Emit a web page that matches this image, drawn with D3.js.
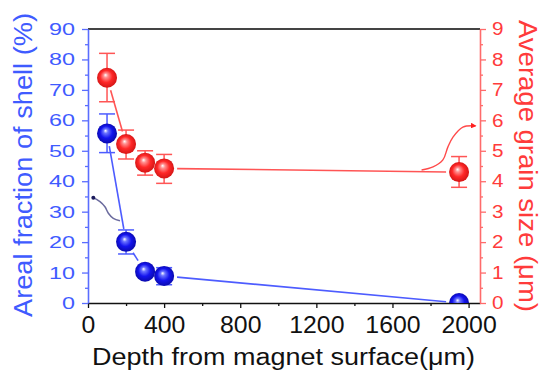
<!DOCTYPE html>
<html>
<head>
<meta charset="utf-8">
<script src="https://cdn.jsdelivr.net/npm/d3@7"></script>
<style>
  html, body { margin: 0; padding: 0; background: #fff; }
  svg { display: block; font-family: "Liberation Sans", Arial, sans-serif; }
</style>
</head>
<body>
<svg id="chart" width="540" height="371"></svg>
<script>
// Depth below the magnet surface (µm)
const depth = [100, 200, 300, 400, 1950];

// Areal fraction of the shell phase (%) with error range
const shellFraction = [55.7, 20.1, 10.3, 8.9, 0];
const shellLow      = [49.4, 16.1, 9.3, 6.0, 0];
const shellHigh     = [62.1, 24.0, 11.3, 11.6, 0];

// Average grain size (µm) with error range
const grainSize = [7.4, 5.22, 4.61, 4.42, 4.3];
const grainLow  = [6.61, 4.73, 4.2, 3.93, 3.8];
const grainHigh = [8.2, 5.68, 5.0, 4.88, 4.81];

// Axis ticks
const xTicks = [0, 400, 800, 1200, 1600, 2000];
const xMinor = [200, 600, 1000, 1400, 1800];
const leftTicks = [0, 10, 20, 30, 40, 50, 60, 70, 80, 90];
const leftMinor = [5, 15, 25, 35, 45, 55, 65, 75, 85];
const rightTicks = [0, 1, 2, 3, 4, 5, 6, 7, 8, 9];
const rightMinor = [0.5, 1.5, 2.5, 3.5, 4.5, 5.5, 6.5, 7.5, 8.5];

// Curved arrows pointing each series to its own axis (depth, axis value)
const shellArrow = [[28, 34.6], [63, 33.3], [89, 31.6], [107, 29.5], [133, 27.8], [168, 27.0]];
const grainArrow = [[1753, 4.37], [1813, 4.47], [1865, 4.7], [1891, 5.12], [1918, 5.45], [1970, 5.78], [2036, 5.82]];

const BLUE_TEXT = "#3f5bff", BLUE_AXIS = "#5a6dff", BLUE_LINE = "#4d5cff";
const RED_TEXT = "#ff3b3b", RED_AXIS = "#ff6b6b", RED_LINE = "#ff5555";

const svg = d3.select("#chart");
const plot = { left: 88, right: 480, top: 29, bottom: 303 };

const x = d3.scaleLinear().domain([0, 2060]).range([plot.left, plot.right]);
const yL = d3.scaleLinear().domain([0, 90]).range([plot.bottom, plot.top]);
const yR = d3.scaleLinear().domain([0, 9]).range([plot.bottom, plot.top]);
const plain = d3.format("d");

// Sphere-like marker shading
const defs = svg.append("defs");
function sphere(id, light, mid, dark) {
  const g = defs.append("radialGradient").attr("id", id)
    .attr("cx", "50%").attr("cy", "50%").attr("r", "55%")
    .attr("fx", "42%").attr("fy", "36%");
  g.append("stop").attr("offset", "0%").attr("stop-color", "#ffffff");
  g.append("stop").attr("offset", "20%").attr("stop-color", light);
  g.append("stop").attr("offset", "55%").attr("stop-color", mid);
  g.append("stop").attr("offset", "100%").attr("stop-color", dark);
}
sphere("blueBall", "#6b74ff", "#1414ee", "#0808a0");
sphere("redBall", "#ff9090", "#ff2828", "#cc1212");

defs.append("clipPath").attr("id", "plotClip").append("rect")
  .attr("x", plot.left).attr("y", plot.top)
  .attr("width", plot.right - plot.left).attr("height", plot.bottom - plot.top);

defs.append("marker").attr("id", "redHead")
  .attr("viewBox", "0 0 10 10").attr("refX", 8).attr("refY", 5)
  .attr("markerWidth", 4).attr("markerHeight", 4).attr("orient", "auto")
  .append("path").attr("d", "M0,0 L10,5 L0,10 Z").attr("fill", "#ff2020");

// Top frame line
svg.append("line")
  .attr("x1", plot.left).attr("x2", plot.right)
  .attr("y1", plot.top).attr("y2", plot.top)
  .attr("stroke", "#444").attr("stroke-width", 2);

function styleAxis(g, color, width) {
  g.select(".domain").attr("stroke", color).attr("stroke-width", width);
  g.selectAll(".tick line").attr("stroke", color).attr("stroke-width", 1.3);
}

// Bottom axis
const gx = svg.append("g").attr("transform", `translate(0,${plot.bottom})`)
  .call(d3.axisBottom(x).tickValues(xTicks).tickFormat(plain).tickSize(5).tickPadding(9).tickSizeOuter(0));
styleAxis(gx, "#111", 1.6);
gx.selectAll("text").attr("fill", "#111").attr("font-size", 23)
  .attr("textLength", d => plain(d).length * 13.8).attr("lengthAdjust", "spacingAndGlyphs");
const gxm = svg.append("g").attr("transform", `translate(0,${plot.bottom})`)
  .call(d3.axisBottom(x).tickValues(xMinor).tickSize(3).tickFormat(""));
gxm.select(".domain").remove();
gxm.selectAll(".tick line").attr("stroke", "#111").attr("stroke-width", 1.3);

// Left axis (shell fraction)
const gl = svg.append("g").attr("transform", `translate(${plot.left},0)`)
  .call(d3.axisLeft(yL).tickValues(leftTicks).tickFormat(plain).tickSize(6).tickPadding(7).tickSizeOuter(0));
styleAxis(gl, BLUE_AXIS, 1.6);
gl.selectAll("text").attr("fill", BLUE_TEXT).attr("font-size", 17)
  .attr("textLength", d => plain(d).length * 13).attr("lengthAdjust", "spacingAndGlyphs");
const glm = svg.append("g").attr("transform", `translate(${plot.left},0)`)
  .call(d3.axisLeft(yL).tickValues(leftMinor).tickSize(3).tickFormat(""));
glm.select(".domain").remove();
glm.selectAll(".tick line").attr("stroke", BLUE_AXIS).attr("stroke-width", 1.3);

// Right axis (grain size)
const gr = svg.append("g").attr("transform", `translate(${plot.right},0)`)
  .call(d3.axisRight(yR).tickValues(rightTicks).tickFormat(plain).tickSize(6).tickPadding(6).tickSizeOuter(0));
styleAxis(gr, RED_AXIS, 1.6);
gr.selectAll("text").attr("fill", RED_TEXT).attr("font-size", 18)
  .attr("textLength", 11.5).attr("lengthAdjust", "spacingAndGlyphs");
const grm = svg.append("g").attr("transform", `translate(${plot.right},0)`)
  .call(d3.axisRight(yR).tickValues(rightMinor).tickSize(3).tickFormat(""));
grm.select(".domain").remove();
grm.selectAll(".tick line").attr("stroke", RED_AXIS).attr("stroke-width", 1.3);

// Axis titles
svg.append("text")
  .attr("x", (plot.left + plot.right) / 2 - 0.5).attr("y", 365)
  .attr("text-anchor", "middle").attr("font-size", 23).attr("fill", "#111")
  .attr("textLength", 383).attr("lengthAdjust", "spacingAndGlyphs")
  .text("Depth from magnet surface(μm)");

svg.append("text")
  .attr("transform", "translate(31.5,165) rotate(-90)")
  .attr("text-anchor", "middle").attr("font-size", 25).attr("fill", BLUE_TEXT)
  .attr("textLength", 304).attr("lengthAdjust", "spacingAndGlyphs")
  .text("Areal fraction of shell (%)");

svg.append("text")
  .attr("transform", "translate(518.5,166) rotate(90)")
  .attr("text-anchor", "middle").attr("font-size", 25).attr("fill", RED_TEXT)
  .attr("textLength", 292).attr("lengthAdjust", "spacingAndGlyphs")
  .text("Average grain size (μm)");

// Connecting lines, broken around each marker
function gappedSegments(xs, ys, yScale, gap) {
  const pts = xs.map((d, i) => [x(d), yScale(ys[i])]);
  const segs = [];
  for (let i = 0; i < pts.length - 1; i++) {
    const [x1, y1] = pts[i], [x2, y2] = pts[i + 1];
    const len = Math.hypot(x2 - x1, y2 - y1);
    if (len <= 2 * gap + 2) continue;
    const ux = (x2 - x1) / len, uy = (y2 - y1) / len;
    segs.push([x1 + ux * gap, y1 + uy * gap, x2 - ux * gap, y2 - uy * gap]);
  }
  return segs;
}

const dataLayer = svg.append("g").attr("clip-path", "url(#plotClip)");

function drawSeries(values, low, high, yScale, lineColor, fill) {
  const g = dataLayer.append("g");
  g.selectAll("line.seg").data(gappedSegments(depth, values, yScale, 13)).join("line")
    .attr("class", "seg")
    .attr("x1", d => d[0]).attr("y1", d => d[1]).attr("x2", d => d[2]).attr("y2", d => d[3])
    .attr("stroke", lineColor).attr("stroke-width", 1.6);
  const idx = d3.range(depth.length).filter(i => high[i] > low[i]);
  g.selectAll("line.err").data(idx).join("line").attr("class", "err")
    .attr("x1", i => x(depth[i])).attr("x2", i => x(depth[i]))
    .attr("y1", i => yScale(low[i])).attr("y2", i => yScale(high[i]))
    .attr("stroke", lineColor).attr("stroke-width", 1.5);
  [low, high].forEach(arr => {
    g.selectAll(null).data(idx).join("line")
      .attr("x1", i => x(depth[i]) - 8).attr("x2", i => x(depth[i]) + 8)
      .attr("y1", i => yScale(arr[i])).attr("y2", i => yScale(arr[i]))
      .attr("stroke", lineColor).attr("stroke-width", 1.5);
  });
  g.selectAll("circle").data(values).join("circle")
    .attr("cx", (d, i) => x(depth[i])).attr("cy", d => yScale(d))
    .attr("r", 10).attr("fill", fill);
}

drawSeries(grainSize, grainLow, grainHigh, yR, RED_LINE, "url(#redBall)");
drawSeries(shellFraction, shellLow, shellHigh, yL, BLUE_LINE, "url(#blueBall)");

// Annotation arrows
const curve = d3.line().curve(d3.curveCatmullRom.alpha(0.5));
svg.append("path")
  .attr("d", curve(shellArrow.map(p => [x(p[0]), yL(p[1])])))
  .attr("fill", "none").attr("stroke", "#6b6b9e").attr("stroke-width", 1.5);
svg.append("circle")
  .attr("cx", x(shellArrow[0][0])).attr("cy", yL(shellArrow[0][1]))
  .attr("r", 2).attr("fill", "#1b1b5c");

svg.append("path")
  .attr("d", curve(grainArrow.map(p => [x(p[0]), yR(p[1])])))
  .attr("fill", "none").attr("stroke", "#ff4a4a").attr("stroke-width", 1.4)
  .attr("marker-end", "url(#redHead)");
</script>
</body>
</html>
